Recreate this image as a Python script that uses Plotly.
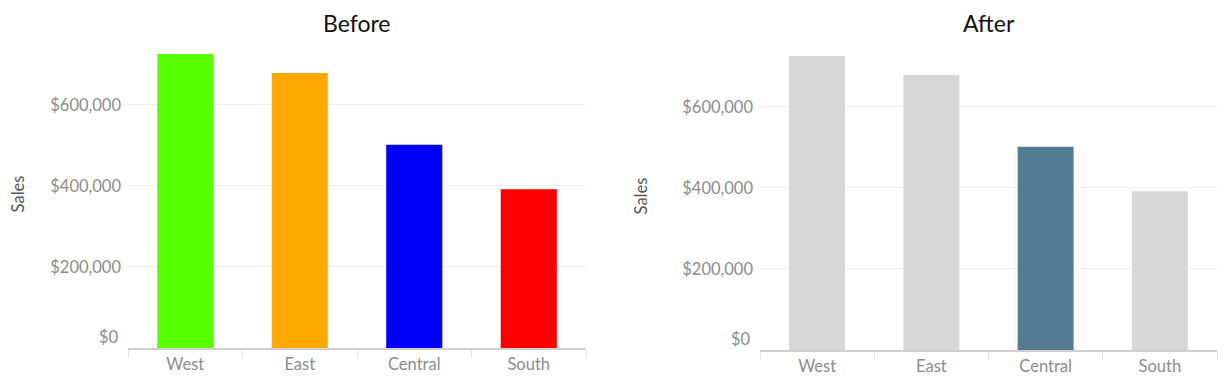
import plotly.graph_objects as go

regions = ["West", "East", "Central", "South"]
sales = [725458, 678781, 501240, 391722]
before_colors = ["#58FF00", "#FFA800", "#0000FF", "#FF0000"]
after_colors = ["#D7D7D7", "#D7D7D7", "#537B92", "#D7D7D7"]
tick_vals = [200000, 400000, 600000]
tick_text = ["$200,000", "$400,000", "$600,000"]
titles = ["Before", "After"]

W, H = 1227, 384
OFF = 8  # page body margin offset
fig = go.Figure()

fig.add_trace(go.Bar(x=regions, y=sales, marker=dict(color=before_colors, line=dict(width=0)),
                     xaxis="x", yaxis="y", showlegend=False))
fig.add_trace(go.Bar(x=regions, y=sales, marker=dict(color=after_colors, line=dict(width=0)),
                     xaxis="x2", yaxis="y2", showlegend=False))

tick_font = dict(family="Lato, Open Sans, sans-serif", size=16.5, color="#8c8c8c")

def px_x(a, b):
    return [(a - OFF) / W, (b - OFF) / W]

def px_y(bottom, top):
    return [(H - (bottom - OFF)) / H, (H - (top - OFF)) / H]

def xaxis(domain, anchor):
    return dict(domain=domain, anchor=anchor, type="category",
                showgrid=False, zeroline=False,
                showline=True, linecolor="#cfcfcf", linewidth=2,
                ticks="outside", tickson="boundaries", ticklen=8, tickcolor="#e6e6e6",
                tickfont=tick_font, fixedrange=True)

def yaxis(domain, anchor):
    return dict(domain=domain, anchor=anchor, range=[0, 760000],
                tickvals=tick_vals, ticktext=tick_text, tickfont=tick_font,
                showgrid=True, gridcolor="#f2f2f2", gridwidth=1,
                zeroline=False, showline=False, ticks="",
                ticklabelstandoff=6,
                title=dict(text="Sales", font=dict(family="Lato, Open Sans, sans-serif", size=16.5, color="#555"), standoff=30))

fig.update_layout(
    width=W, height=H,
    margin=dict(l=0, r=0, t=0, b=0),
    paper_bgcolor="white", plot_bgcolor="white",
    bargap=0.51,
    xaxis=xaxis(px_x(128, 586), "y"),
    yaxis=yaxis(px_y(348, 40), "x"),
    xaxis2=xaxis(px_x(760, 1217), "y2"),
    yaxis2=yaxis(px_y(350, 42), "x2"),
)

for t, xr, yr in [(titles[0], "x domain", "y"), (titles[1], "x2 domain", "y2")]:
    fig.add_annotation(text=t, xref=xr, x=0.5, yref="paper", y=1, yanchor="top", xanchor="center",
                       showarrow=False, yshift=0, borderpad=0,
                       font=dict(family="Lato, sans-serif", size=23, color="#111"))
    fig.add_annotation(text="$0", xref=xr, x=0, xanchor="right", xshift=-7, yref=yr, y=0,
                       yanchor="middle", yshift=11, showarrow=False, font=tick_font)

fig.write_html("out.html")
